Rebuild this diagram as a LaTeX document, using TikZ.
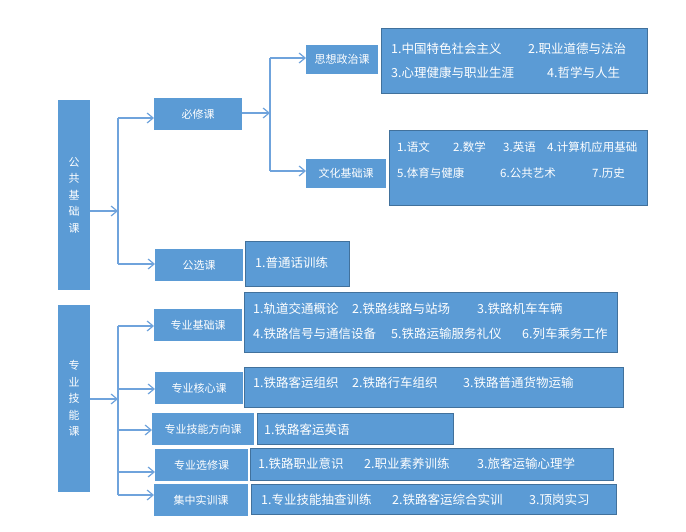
\documentclass[tikz,border=0pt]{standalone}
\usepackage{fontspec}
\setmainfont{Noto Sans CJK SC}
\usetikzlibrary{arrows.meta}
\definecolor{boxblue}{HTML}{5B9BD5}
\definecolor{edgeblue}{HTML}{41719C}
\definecolor{lineblue}{HTML}{6FA3DC}
\begin{document}
\begin{tikzpicture}[x=1pt,y=-1pt,
  lbl/.style={fill=boxblue, draw=none, text=white, font=\fontsize{11}{13}\selectfont, inner sep=0, anchor=north west},
  vlbl/.style={lbl, align=center, font=\fontsize{11}{16.5}\selectfont},
  content/.style={fill=boxblue, draw=edgeblue, line width=1pt, anchor=north west, inner sep=0},
  item/.style={text=white, font=\fontsize{12.5}{14}\selectfont, anchor=west, inner sep=0},
  itemsm/.style={item, font=\fontsize{11.5}{13}\selectfont},
  arr/.style={draw=lineblue, line width=1.2pt, -{Straight Barb[length=6pt,width=10pt]}},
  ln/.style={draw=lineblue, line width=1.2pt}]
\useasboundingbox (0,0) rectangle (686,532);

% ---------- top group ----------
\node[vlbl, minimum width=32pt, minimum height=190pt] (gg) at (58,100) {公\\共\\基\\础\\课};
\node[lbl, minimum width=88pt, minimum height=32pt] (bx) at (154,98) {必修课};
\node[lbl, minimum width=88pt, minimum height=32pt] (gx) at (155,249) {公选课};
\node[lbl, minimum width=72pt, minimum height=29pt] (sz) at (306,45) {思想政治课};
\node[lbl, minimum width=80pt, minimum height=29pt] (wh) at (306,159) {文化基础课};

\node[content, minimum width=266pt, minimum height=65pt] (c1) at (381,28) {};
\node[item] (c1a) at (391,49) {1.中国特色社会主义};
\node[item] (c1b) at (528,49) {2.职业道德与法治};
\node[item] (c1c) at (391,73) {3.心理健康与职业生涯};
\node[item] (c1d) at (547,73) {4.哲学与人生};

\node[content, minimum width=258pt, minimum height=75pt] (c2) at (389,130) {};
\node[itemsm] (c2a) at (397,147) {1.语文};
\node[itemsm] (c2b) at (453,147) {2.数学};
\node[itemsm] (c2c) at (503,147) {3.英语};
\node[itemsm] (c2d) at (547,147) {4.计算机应用基础};
\node[itemsm] (c2e) at (397,173) {5.体育与健康};
\node[itemsm] (c2f) at (500,173) {6.公共艺术};
\node[itemsm] (c2g) at (592,173) {7.历史};

\node[content, minimum width=104pt, minimum height=45pt] (c3) at (245,241) {};
\node[item] (c3a) at (255,263) {1.普通话训练};

\coordinate (j1) at (118,211);
\coordinate (jt) at (118,118);
\coordinate (jb) at (118,264);
\draw[arr] (gg.east |- j1) -- (j1);
\draw[ln] (jt) -- (jb);
\draw[arr] (jt) -- (bx.west |- jt);
\draw[arr] (jb) -- (gx.west |- jb);

\coordinate (k1) at (270,113);
\coordinate (kt) at (270,58);
\coordinate (kb) at (270,171);
\draw[arr] (bx.east |- k1) -- (k1);
\draw[ln] (kt) -- (kb);
\draw[arr] (kt) -- (sz.west |- kt);
\draw[arr] (kb) -- (wh.west |- kb);

% ---------- bottom group ----------
\node[vlbl, minimum width=32pt, minimum height=187pt] (zy) at (58,305) {专\\业\\技\\能\\课};
\node[lbl, minimum width=88pt, minimum height=32pt] (l1) at (154,309) {专业基础课};
\node[lbl, minimum width=88pt, minimum height=32pt] (l2) at (155,372) {专业核心课};
\node[lbl, minimum width=102pt, minimum height=32pt] (l3) at (152,413) {专业技能方向课};
\node[lbl, minimum width=93pt, minimum height=32pt] (l4) at (155,449) {专业选修课};
\node[lbl, minimum width=94pt, minimum height=32pt] (l5) at (154,484) {集中实训课};

\node[content, minimum width=373pt, minimum height=60pt] (d1) at (244,292) {};
\node[item] (d1a) at (253,309) {1.轨道交通概论};
\node[item] (d1b) at (352,309) {2.铁路线路与站场};
\node[item] (d1c) at (477,309) {3.铁路机车车辆};
\node[item] (d1d) at (253,334) {4.铁路信号与通信设备};
\node[item] (d1e) at (391,334) {5.铁路运输服务礼仪};
\node[item] (d1f) at (522,334) {6.列车乘务工作};

\node[content, minimum width=379pt, minimum height=40pt] (d2) at (244,367) {};
\node[item] (d2a) at (253,383) {1.铁路客运组织};
\node[item] (d2b) at (352,383) {2.铁路行车组织};
\node[item] (d2c) at (463,383) {3.铁路普通货物运输};

\node[content, minimum width=196pt, minimum height=31pt] (d3) at (257,413) {};
\node[item] (d3a) at (264,430) {1.铁路客运英语};

\node[content, minimum width=363pt, minimum height=32pt] (d4) at (250,448) {};
\node[item] (d4a) at (258,464) {1.铁路职业意识};
\node[item] (d4b) at (364,464) {2.职业素养训练};
\node[item] (d4c) at (477,464) {3.旅客运输心理学};

\node[content, minimum width=365pt, minimum height=30pt] (d5) at (251,484) {};
\node[item] (d5a) at (261,500) {1.专业技能抽查训练};
\node[item] (d5b) at (392,500) {2.铁路客运综合实训};
\node[item] (d5c) at (529,500) {3.顶岗实习};

\coordinate (m1) at (118,399);
\coordinate (mt) at (118,326);
\coordinate (m2) at (118,389);
\coordinate (m3) at (118,430);
\coordinate (m4) at (118,472);
\coordinate (mb) at (118,495);
\draw[arr] (zy.east |- m1) -- (m1);
\draw[ln] (mt) -- (mb);
\draw[arr] (mt) -- (l1.west |- mt);
\draw[arr] (m2) -- (l2.west |- m2);
\draw[arr] (m3) -- (l3.west |- m3);
\draw[arr] (m4) -- (l4.west |- m4);
\draw[arr] (mb) -- (l5.west |- mb);
\end{tikzpicture}
\end{document}
